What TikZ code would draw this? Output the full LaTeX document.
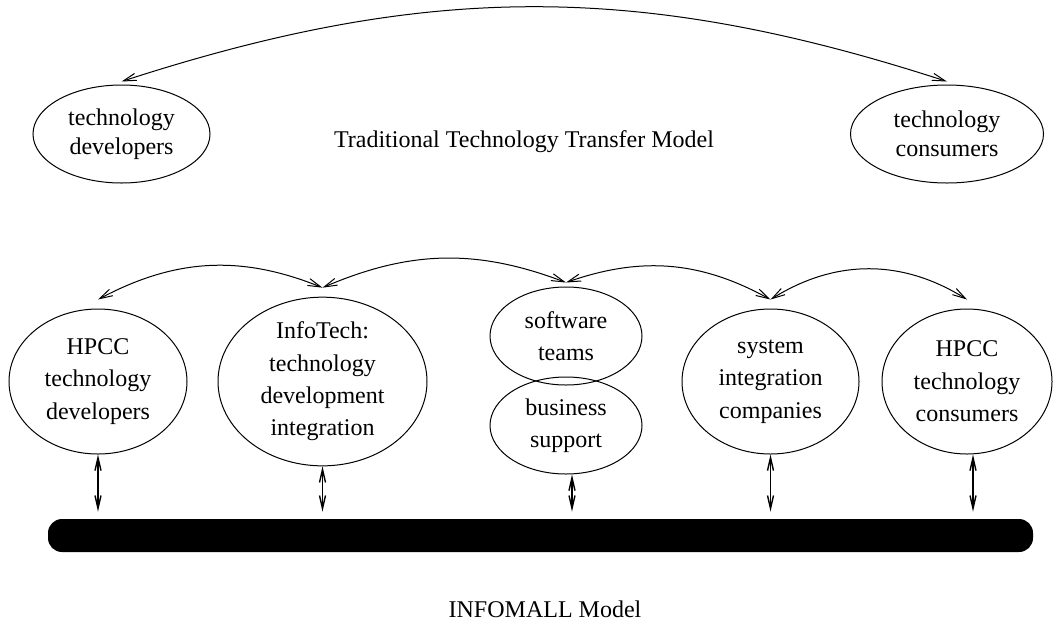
\documentclass[tikz,border=0pt]{standalone}
\usepackage{fontspec}
\setmainfont{Liberation Serif}
\usetikzlibrary{shapes.geometric, arrows.meta}

\begin{document}
\begin{tikzpicture}[
    x=0.5pt, y=-0.5pt,
    font=\fontsize{12}{16.2}\selectfont,
    blob/.style={ellipse, draw, line width=0.5pt, inner sep=0pt, text centered, align=center},
    link/.style={{Straight Barb[length=6.5pt,width=3.6pt]}-{Straight Barb[length=6.5pt,width=3.6pt]}, line width=0.5pt},
    tie/.style={{Straight Barb[length=6.5pt,width=3pt]}-{Straight Barb[length=6.5pt,width=3pt]}, line width=0.7pt, shorten >=3.5pt}
]
\useasboundingbox (0,0) rectangle (1059,622);

% Traditional model
\node [blob, minimum width=88.5pt, minimum height=49pt, font=\fontsize{12}{14.7}\selectfont] (dev) at (121.5,134) {technology\\developers};
\node [blob, minimum width=96.5pt, minimum height=49pt, font=\fontsize{12}{14.7}\selectfont] (con) at (947,134) {technology\\consumers};
\node [anchor=base] (trad) at (524,147) {Traditional Technology Transfer Model};

\draw [link] ([yshift=1.5pt]dev.north) to[bend left=18] ([yshift=1.5pt]con.north);

% INFOMALL model
\node [blob, minimum width=89pt, minimum height=72.5pt] (hdev) at (98,381.5) {HPCC\\technology\\developers};
\node [blob, minimum width=104.5pt, minimum height=80.5pt] (info) at (322.5,381.5) {InfoTech:\\technology\\development\\integration};
\node [blob, minimum width=76pt, minimum height=49pt] (soft) at (566,336) {software\\teams};
\node [blob, minimum width=76pt, minimum height=48.5pt] (biz) at (566,425.5) {business\\support};
\node [blob, minimum width=88.5pt, minimum height=72.5pt] (sys) at (770.5,381.5) {system\\integration\\companies};
\node [blob, minimum width=85pt, minimum height=72.5pt] (hcon) at (967,381.5) {HPCC\\technology\\consumers};

% the mall
\node [fill=black, rounded corners=7pt, minimum width=492.5pt, minimum height=16.5pt, inner sep=0pt] (bar) at (540.5,535.5) {};
\node [anchor=base] (mall) at (545,617) {INFOMALL Model};

% links between partners
\draw [link] ([yshift=4.5pt]hdev.north) to[bend left=25] ([yshift=4.5pt]info.north);
\draw [link] ([yshift=4.5pt]info.north) to[bend left=22] ([yshift=2pt]soft.north);
\draw [link] ([yshift=2pt]soft.north) to[bend left=24] ([yshift=4.5pt]sys.north);
\draw [link] ([yshift=4.5pt]sys.north) to[bend left=32] ([yshift=4.5pt]hcon.north);

% links to the mall
\draw [tie] (hdev.south) -- (hdev.south |- bar.north);
\draw [tie] (info.south) -- (info.south |- bar.north);
\draw [tie] ([xshift=3pt]biz.south) -- ([xshift=3pt]biz.south |- bar.north);
\draw [tie] (sys.south) -- (sys.south |- bar.north);
\draw [tie] ([xshift=3pt]hcon.south) -- ([xshift=3pt]hcon.south |- bar.north);

\end{tikzpicture}
\end{document}
